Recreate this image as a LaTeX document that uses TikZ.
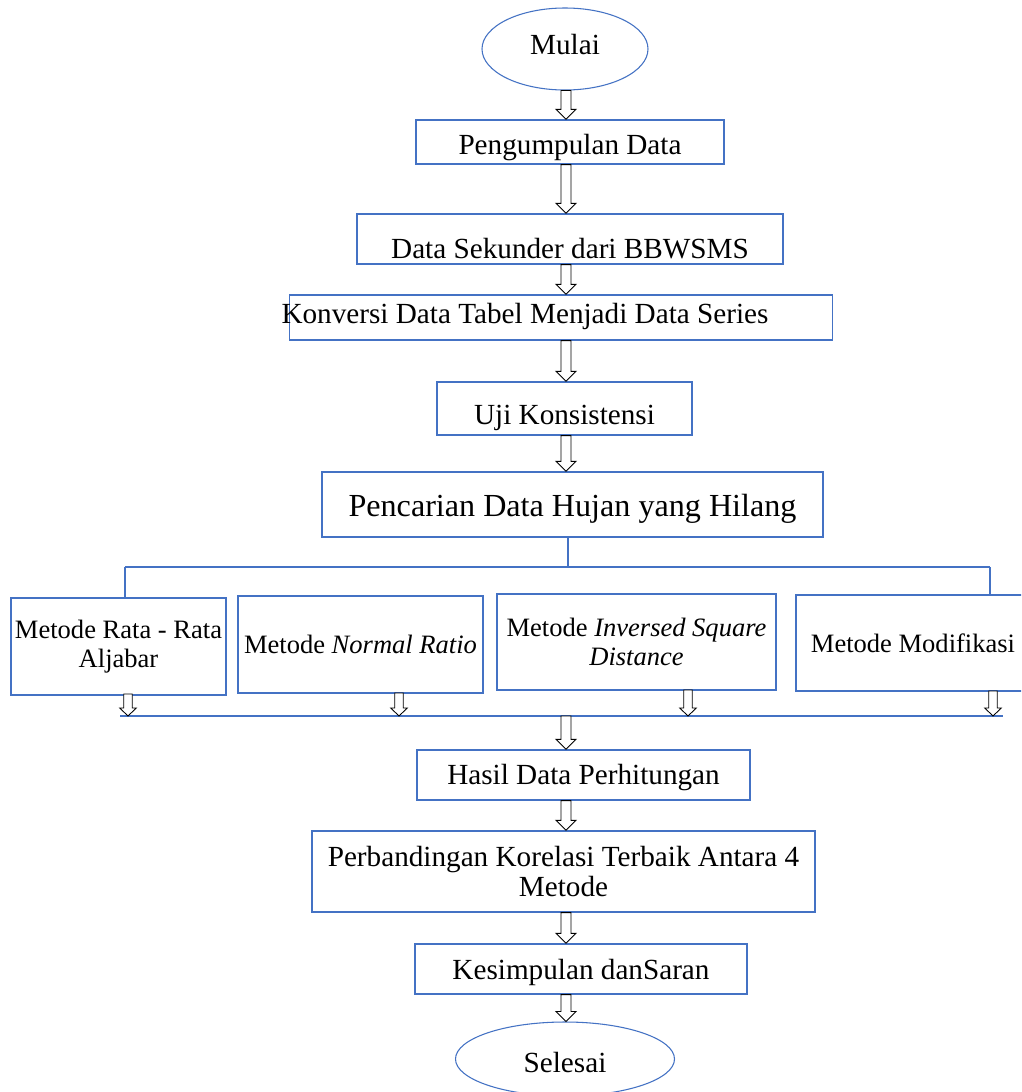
\documentclass[tikz,border=0pt]{standalone}
\usepackage{fontspec}
\setmainfont{Liberation Serif}
\usetikzlibrary{calc,shapes.geometric}
\definecolor{boxblue}{RGB}{68,114,196}
\newcommand\fsA{\fontsize{19.9pt}{21.8pt}\selectfont}
\newcommand\fsB{\fontsize{21.9pt}{23pt}\selectfont}
\newcommand\fsC{\fontsize{24.1pt}{27pt}\selectfont}
\newcommand\dn[2]{\raisebox{-#1}[\height][\depth]{#2}}
\tikzset{
  bx/.style 2 args={draw=boxblue, line width=1pt, fill=white, inner sep=0pt, align=center,
    minimum width=#1*0.75pt, minimum height=#2*0.75pt},
  oval/.style 2 args={ellipse, draw=boxblue, line width=0.8pt, fill=white, inner sep=0pt,
    minimum width=#1*0.75pt, minimum height=#2*0.75pt, font=\fsB},
  link/.style={draw=boxblue, line width=1pt},
  hollowgen/.style n args={3}{draw=black, line width=0.65pt, fill=white,
    to path={let \p1=(\tikztostart), \p2=(\tikztotarget) in
      (\x1-#1,\y1) -- (\x1-#1,\y2+#3) -- (\x1-#2,\y2+#3) -- (\x1,\y2)
      -- (\x1+#2,\y2+#3) -- (\x1+#1,\y2+#3) -- (\x1+#1,\y1) -- cycle}},
  bigarrow/.style={hollowgen={3.75pt}{7.5pt}{7.5pt}},
  smallarrow/.style={hollowgen={3.2pt}{6.2pt}{6pt}},
}
\begin{document}
\begin{tikzpicture}[x=0.75pt,y=-0.75pt]
\useasboundingbox (0,0) rectangle (1021,1092);
\clip (0,0) rectangle (1021,1092);
\fill[white] (0,0) rectangle (1021,1092);

\coordinate (col) at (566,0);

\node[oval={166}{82}] (mulai) at (565,49) {\dn{-3.5pt}{Mulai}};
\node[bx={308}{44}, font=\fsB] (peng) at (570,142) {\dn{4.5pt}{Pengumpulan Data}};
\node[bx={426}{50}, font=\fsB] (sek) at (570,239) {\dn{7.5pt}{Data Sekunder dari BBWSMS}};
\node[bx={543}{45}, font=\fsB] (konv) at (561,317.5) {\makebox[0pt][c]{\hspace*{-54pt}\dn{-0.75pt}{Konversi Data Tabel Menjadi Data Series}}};
\node[bx={255}{53}, font=\fsB] (uji) at (564.5,408.5) {\dn{6.75pt}{Uji Konsistensi}};
\node[bx={501}{65}, font=\fsC] (penc) at (572.5,504.5) {\dn{3pt}{Pencarian Data Hujan yang Hilang}};

\node[bx={215}{97}, font=\fsA] (m1) at (118.5,646.5) {Metode Rata - Rata\\Aljabar};
\node[bx={245}{97}, font=\fsA] (m2) at (360.5,644.5) {Metode \textit{Normal Ratio}};
\node[bx={279}{96}, font=\fsA] (m3) at (636.5,642) {Metode \textit{Inversed Square}\\\textit{Distance}};
\node[bx={234}{96}, font=\fsA] (m4) at (913,643) {Metode Modifikasi};

\node[bx={333}{50}, font=\fsB] (hasil) at (583.5,775) {\dn{2.25pt}{Hasil Data Perhitungan}};
\node[bx={503}{81}, font=\fsB] (perb) at (563.5,871.5) {Perbandingan Korelasi Terbaik Antara 4\\Metode};
\node[bx={332}{50}, font=\fsB] (kes) at (581,969) {\dn{2.25pt}{Kesimpulan danSaran}};
\node[oval={219}{74}] (selesai) at (565,1059) {\dn{2.5pt}{Selesai}};

% branching connectors
\coordinate (split) at (568,567);
\coordinate (hl) at (125,567);
\coordinate (hr) at (990,567);
\draw[link] (penc.south -| split) -- (split);
\draw[link] (hl) -- (hr);
\draw[link] (hl) -- (m1.north -| hl);
\draw[link] (hr) -- (m4.north -| hr);

% merge bar
\coordinate (barL) at (120,716);
\coordinate (barR) at (1003,716);
\draw[link] (barL) -- (barR);
\coordinate (a1) at (128,694);
\coordinate (a2) at (399,693);
\coordinate (a3) at (688,690);
\coordinate (a4) at (993,691);
\draw[smallarrow] (a1) to (a1 |- barL);
\draw[smallarrow] (a2) to (a2 |- barL);
\draw[smallarrow] (a3) to (a3 |- barL);
\draw[smallarrow] (a4) to (a4 |- barL);

% main arrows
\draw[bigarrow] (mulai.south -| col) to (peng.north -| col);
\draw[bigarrow] (peng.south -| col) to (sek.north -| col);
\draw[bigarrow] (sek.south -| col) to (konv.north -| col);
\draw[bigarrow] (konv.south -| col) to (uji.north -| col);
\draw[bigarrow] (uji.south -| col) to (penc.north -| col);
\draw[bigarrow] (barL -| col) to (hasil.north -| col);
\draw[bigarrow] (hasil.south -| col) to (perb.north -| col);
\draw[bigarrow] (perb.south -| col) to (kes.north -| col);
\draw[bigarrow] (kes.south -| col) to (selesai.north -| col);
\end{tikzpicture}
\end{document}
